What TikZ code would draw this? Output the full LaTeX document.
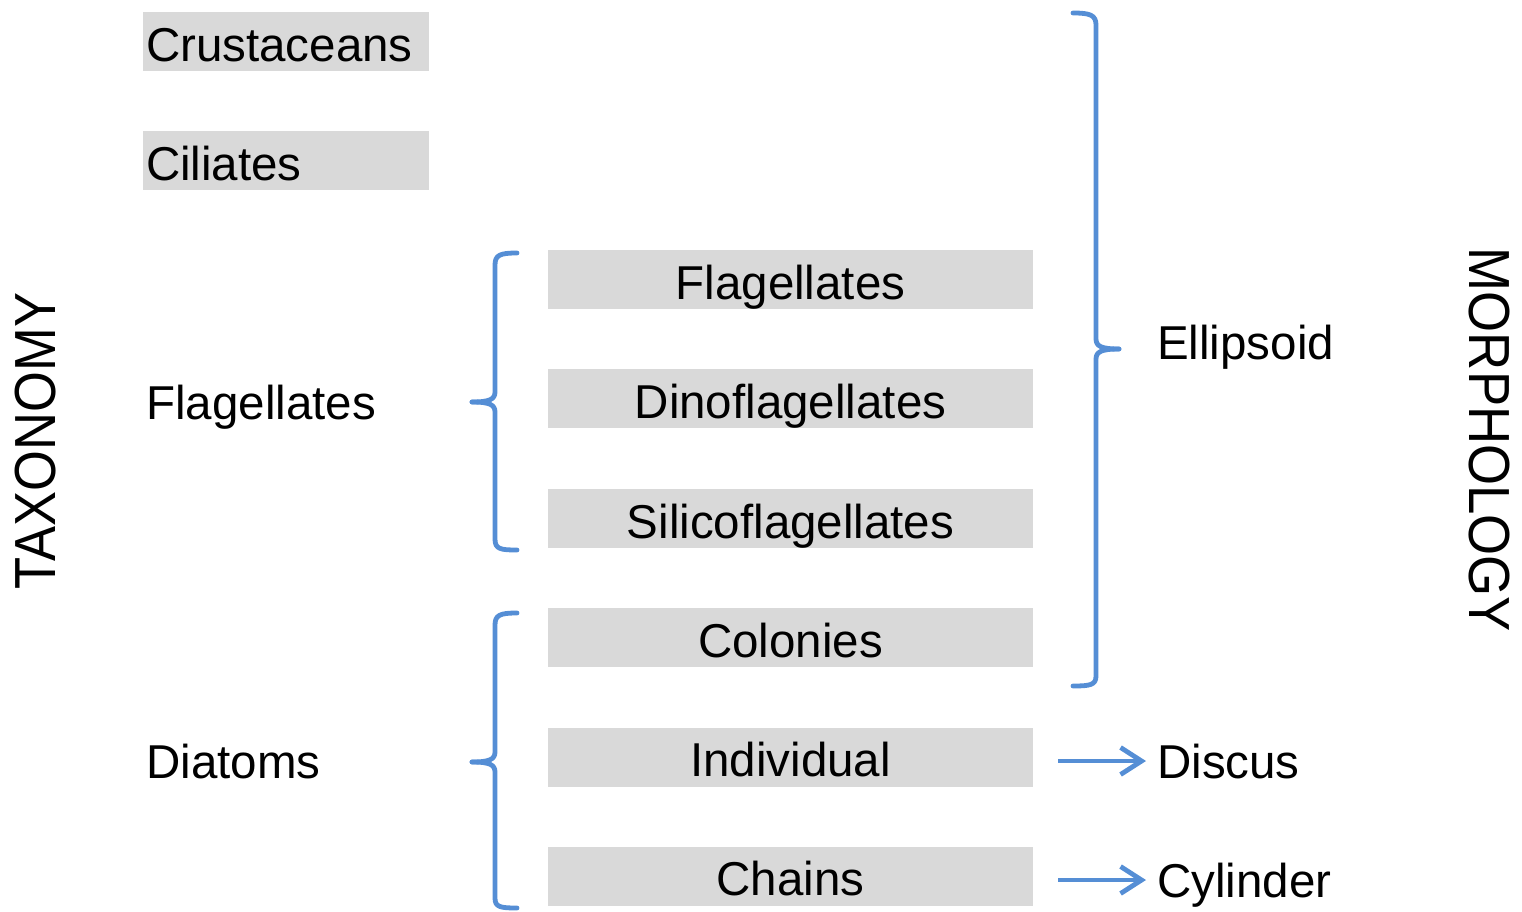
\documentclass[tikz,border=0pt]{standalone}
\usepackage{fontspec}
\setmainfont{Liberation Sans}
\usetikzlibrary{arrows.meta}
\definecolor{boxgray}{HTML}{D9D9D9}
\definecolor{braceblue}{HTML}{558ED5}
\tikzset{
  txt/.style={inner sep=0pt, font=\fontsize{47.5}{50}\selectfont, text height=34pt, text depth=0pt},
  lbox/.style={txt, text height=39pt, fill=boxgray, minimum height=59pt, text width=280pt, inner xsep=3pt, align=left},
  cbox/.style={txt, text height=39pt, fill=boxgray, minimum height=59pt, minimum width=485pt, align=center},
  lbl/.style={txt, anchor=west},
  brace/.style={draw=braceblue, line width=4.8pt, line cap=round, line join=round},
  arr/.style={draw=braceblue, line width=4.8pt, -{Straight Barb[length=21pt,width=27pt]}},
  side/.style={inner sep=0pt, font=\fontsize{58}{60}\selectfont}
}
\begin{document}
\begin{tikzpicture}[x=1pt,y=-1pt]
\useasboundingbox (0,0) rectangle (1522,911);
% left boxes
\node[lbox] (crust) at (286,41.5) {Crustaceans};
\node[lbox] (cil) at (286,160.5) {Ciliates};
% centre boxes
\node[cbox] (flag) at (790.5,279.5) {Flagellates};
\node[cbox] (dino) at (790.5,398.5) {Dinoflagellates};
\node[cbox] (sili) at (790.5,518.5) {Silicoflagellates};
\node[cbox] (colo) at (790.5,637.5) {Colonies};
\node[cbox] (indi) at (790.5,757) {Individual};
\node[cbox] (chai) at (790.5,876) {Chains};
% labels
\node[lbl] (lflag) at (146,402) {Flagellates};
\node[lbl] (ldiat) at (146,761) {Diatoms};
\node[lbl] (ellip) at (1157,342) {Ellipsoid};
\node[lbl] (discus) at (1157,761) {Discus};
\node[lbl] (cyl) at (1157,880) {Cylinder};
% side titles
\node[side, rotate=90] (tax) at (36,441) {\scalebox{0.905}[1]{TAXONOMY}};
\node[side, rotate=-90] (mor) at (1489,440) {\scalebox{0.91}[1]{MORPHOLOGY}};
% braces
\draw[brace] (517,253) .. controls (500,253) and (495,255) .. (495,265) -- (495,392)
  .. controls (495,399) and (490,402) .. (472,402);
\draw[brace] (472,402) .. controls (490,402) and (495,405) .. (495,412) -- (495,539)
  .. controls (495,549) and (500,550) .. (517,550);
\draw[brace] (517,613) .. controls (500,613) and (495,615) .. (495,625) -- (495,752)
  .. controls (495,759) and (490,762) .. (472,762);
\draw[brace] (472,762) .. controls (490,762) and (495,765) .. (495,772) -- (495,898)
  .. controls (495,907) and (500,908) .. (517,908);
\draw[brace] (1073,13) .. controls (1090,13) and (1096,15) .. (1096,25) -- (1096,339)
  .. controls (1096,346) and (1101,349) .. (1119,349);
\draw[brace] (1119,349) .. controls (1101,349) and (1096,352) .. (1096,359) -- (1096,676)
  .. controls (1096,685) and (1090,686) .. (1073,686);
% arrows
\draw[arr] ([xshift=-99pt]discus.west) -- ([xshift=-11pt]discus.west);
\draw[arr] ([xshift=-99pt]cyl.west) -- ([xshift=-11pt]cyl.west);
\end{tikzpicture}
\end{document}
